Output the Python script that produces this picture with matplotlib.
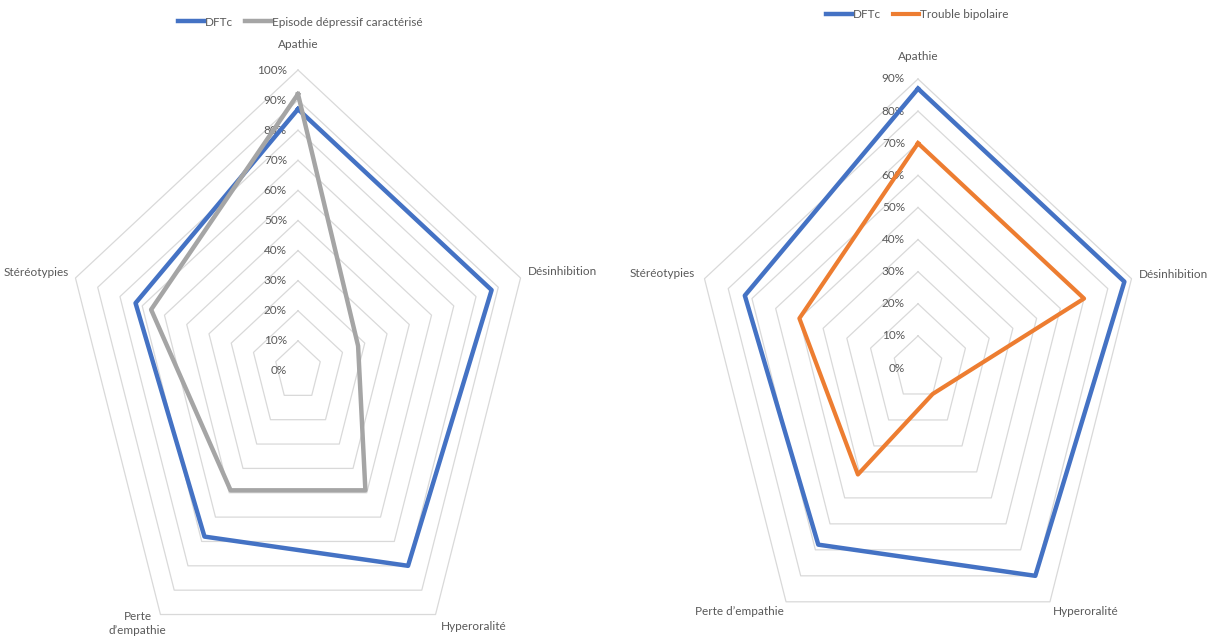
import matplotlib.pyplot as plt
import numpy as np

plt.rcParams['font.family'] = ['Lato', 'DejaVu Sans']

# Symptom axes and scores (fraction of patients)
axes_left = ["Apathie", "Désinhibition", "Hyperoralité", "Perte\nd’empathie", "Stéréotypies"]
axes_right = ["Apathie", "Désinhibition", "Hyperoralité", "Perte d’empathie", "Stéréotypies"]

dftc = [0.87, 0.87, 0.80, 0.68, 0.73]
episode_depressif = [0.92, 0.27, 0.49, 0.49, 0.66]
trouble_bipolaire = [0.70, 0.70, 0.10, 0.41, 0.50]

ticks_left = [0.0, 0.1, 0.2, 0.3, 0.4, 0.5, 0.6, 0.7, 0.8, 0.9, 1.0]
ticks_right = [0.0, 0.1, 0.2, 0.3, 0.4, 0.5, 0.6, 0.7, 0.8, 0.9]

BLUE = "#4472C4"
GREY = "#A5A5A5"
ORANGE = "#ED7D31"
RING = "#D9D9D9"
TEXT = "#595959"
FS = 8.5


def closed(vals):
    return list(vals) + [vals[0]]


def radar(ax, ticks, labels, label_offsets, label_align, label_pad):
    theta = np.linspace(0, 2 * np.pi, len(labels), endpoint=False)
    ax.set_theta_offset(np.pi / 2)
    ax.set_theta_direction(-1)
    ax.set_aspect('auto')
    ax.grid(False)
    ax.set_xticks([])
    ax.set_yticks([])
    ax.spines['polar'].set_visible(False)
    ax.patch.set_visible(False)
    ax.set_ylim(0, ticks[-1])

    # pentagon rings and their value labels
    for t in ticks:
        if t > 0:
            ax.plot(closed(theta), [t] * (len(theta) + 1), color=RING, lw=0.9,
                    clip_on=False, zorder=1)
        ax.annotate("%d%%" % round(t * 100), xy=(0, t), xytext=(-label_pad, 0),
                    textcoords='offset pixels', ha='right', va='center',
                    fontsize=FS, color=TEXT)

    # category names around the outer ring
    for th, lab, off, al in zip(theta, labels, label_offsets, label_align):
        ax.annotate(lab, xy=(th, ticks[-1]), xytext=off, textcoords='offset pixels',
                    ha=al, va='center', fontsize=FS, color=TEXT,
                    multialignment='center', linespacing=1.25)
    return theta


fig = plt.figure(figsize=(12.1, 6.42), dpi=100)

# Left: DFTc vs épisode dépressif caractérisé
ax1 = fig.add_axes([64 / 1210, -30 / 642, 468 / 1210, 602 / 642], projection='polar')
th = radar(ax1, ticks_left, axes_left,
           [(0, 25), (7, 6), (5, -12), (-23, -9), (-7, 5)],
           ['center', 'left', 'left', 'center', 'right'], 11)
ax1.plot(closed(th), closed(dftc), color=BLUE, lw=3.2, clip_on=False, zorder=3,
         label="DFTc")
ax1.plot(closed(th), closed(episode_depressif), color=GREY, lw=3.2, clip_on=False,
         zorder=4, label="Episode dépressif caractérisé")
fig.legend(*ax1.get_legend_handles_labels(), loc='center', ncol=2,
           bbox_to_anchor=(300 / 1210, 1 - 22 / 642), frameon=False, fontsize=FS,
           handlelength=2.2, handletextpad=0.1, columnspacing=1.0, labelcolor=TEXT)

# Right: DFTc vs trouble bipolaire
ax2 = fig.add_axes([693.5 / 1210, -15 / 642, 449 / 1210, 578 / 642], projection='polar')
th = radar(ax2, ticks_right, axes_right,
           [(0, 22), (7, 4), (3, -10), (-47, -10), (-10, 5)],
           ['center', 'left', 'left', 'center', 'right'], 13)
ax2.plot(closed(th), closed(dftc), color=BLUE, lw=3.2, clip_on=False, zorder=3,
         label="DFTc")
ax2.plot(closed(th), closed(trouble_bipolaire), color=ORANGE, lw=3.0, clip_on=False,
         zorder=4, label="Trouble bipolaire")
fig.legend(*ax2.get_legend_handles_labels(), loc='center', ncol=2,
           bbox_to_anchor=(917 / 1210, 1 - 15 / 642), frameon=False, fontsize=FS,
           handlelength=2.2, handletextpad=0.1, columnspacing=1.0, labelcolor=TEXT)

fig.savefig("out.png", dpi=100)
